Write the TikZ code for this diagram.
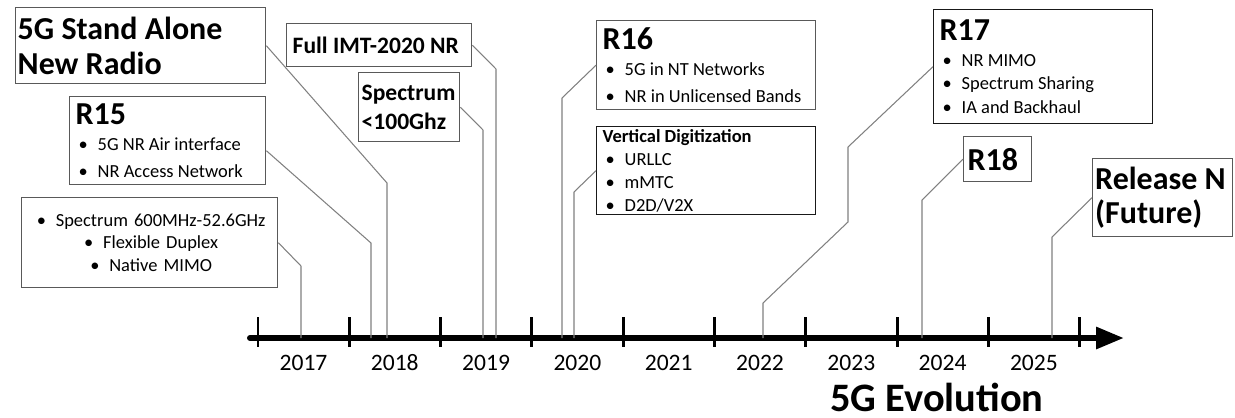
\documentclass[tikz,border=0pt]{standalone}
\usepackage{fontspec}
\setmainfont{Carlito}
\usetikzlibrary{arrows.meta}

\newcommand{\titlefont}{\fontsize{18.2}{19.8}\selectfont\bfseries}
\newcommand{\midfont}{\fontsize{13.4}{16.4}\selectfont\bfseries}
\newcommand{\itemfont}{\fontsize{10.5}{13}\selectfont}
\newcommand{\yearfont}{\fontsize{13.4}{15}\selectfont}
\newcommand{\evofont}{\fontsize{23}{26}\selectfont\bfseries}
\newcommand{\itm}{\hspace*{0.06cm}\makebox[0.38cm][l]{\textbullet}}

\begin{document}
\begin{tikzpicture}[x=0.02cm,y=-0.02cm]
    % Styles
    \tikzset{box/.style={draw=black!65, line width=0.8pt, anchor=north west, inner xsep=0.12cm, inner ysep=0pt, align=flush left, font=\itemfont}}
    \tikzstyle{darkbox}=[box, draw=black!90]
    \tikzstyle{conn}=[draw=black!50, line width=0.6pt]
    \tikzstyle{axisline}=[line width=3.4pt, line cap=round, -{Triangle[length=0.56cm,width=0.42cm]}]
    \tikzstyle{yearlabel}=[font=\yearfont, anchor=base]

    \useasboundingbox (0,0) rectangle (1235,417);

    % Timeline
    \coordinate (axis) at (250,338);
    \draw[axisline] (axis) -- (1124,338);
    \foreach \i in {0,...,9}
        \draw[line width=1.7pt] (258+91.3*\i,317) -- (258+91.3*\i,347);
    \foreach \yr [count=\i from 0] in {2017,...,2025}
        \node[yearlabel] (y\yr) at (303.5+91.3*\i,370) {\yr};
    \node[font=\evofont, anchor=base, inner sep=0pt] (evo) at (937,411) {5G Evolution};

    % Release 15 and before
    \node[box, minimum width=5cm, minimum height=1.52cm, text width=4.92cm, inner xsep=0.04cm, font=\titlefont] (sa) at (15,7) {5G Stand Alone\\New Radio};
    \node[box, minimum width=3.92cm, minimum height=1.76cm, text width=3.68cm] (r15) at (69,96)
        {{\titlefont R15}\\[2pt] \itm 5G NR Air interface\\[2.3pt] \itm NR Access Network};
    \node[box, minimum width=5.12cm, minimum height=1.8cm, text width=4.88cm, align=center] (sp600) at (21,197)
        {\itm Spectrum 600MHz-52.6GHz\\ \itm Flexible Duplex\\ \itm Native MIMO};
    \node[box, minimum width=3.7cm, minimum height=0.86cm, text width=3.46cm, font=\midfont] (imt) at (286,23) {Full IMT-2020 NR};
    \node[box, minimum width=2.02cm, minimum height=1.38cm, text width=1.9cm, inner xsep=0.06cm, font=\midfont] (sp100) at (358,72) {Spectrum\\<100Ghz};

    % Release 16
    \node[box, minimum width=4.38cm, minimum height=1.78cm, text width=4.14cm] (r16) at (596,20)
        {{\titlefont R16}\\[2pt] \itm 5G in NT Networks\\[2.3pt] \itm NR in Unlicensed Bands};
    \node[darkbox, minimum width=4.38cm, minimum height=1.76cm, text width=4.14cm] (vd) at (596,126)
        {\textbf{Vertical Digitization}\\ \itm URLLC\\ \itm mMTC\\ \itm D2D/V2X};

    % Release 17, 18 and beyond
    \node[darkbox, minimum width=4.38cm, minimum height=2.28cm, text width=4.14cm] (r17) at (933,9)
        {{\titlefont R17}\\[1.5pt] \itm NR MIMO\\[0.5pt] \itm Spectrum Sharing\\[0.5pt] \itm IA and Backhaul};
    \node[box, minimum width=1.36cm, minimum height=0.9cm, text width=1.2cm, inner xsep=0.08cm, font=\titlefont] (r18) at (963,136) {R18};
    \node[box, minimum width=2.8cm, minimum height=1.56cm, text width=2.7cm, inner xsep=0.05cm, font=\titlefont] (reln) at (1092,158) {Release N\\(Future)};

    % Connectors
    \coordinate (ksa) at (387,183);
    \coordinate (kr15) at (371,243);
    \coordinate (ksp600) at (301,266);
    \coordinate (kimt) at (496,69);
    \coordinate (ksp100) at (483,130);
    \coordinate (kr16) at (562,98);
    \coordinate (kvd) at (574,192);
    \coordinate (kr17a) at (848,147);
    \coordinate (kr17b) at (848,222);
    \coordinate (kr17c) at (763,303);
    \coordinate (kr18) at (922,200);
    \coordinate (kreln) at (1052,237);
    \draw[conn] (sa.east) -- (ksa) -- (ksa |- axis);
    \draw[conn] ([yshift=-0.2cm]r15.east) -- (kr15) -- (kr15 |- axis);
    \draw[conn] (sp600.east) -- (ksp600) -- (ksp600 |- axis);
    \draw[conn] (imt.east) -- (kimt) -- (kimt |- axis);
    \draw[conn] (sp100.east) -- (ksp100) -- (ksp100 |- axis);
    \draw[conn] (r16.west) -- (kr16) -- (kr16 |- axis);
    \draw[conn] (vd.west) -- (kvd) -- (kvd |- axis);
    \draw[conn] (r17.west) -- (kr17a) -- (kr17b) -- (kr17c) -- (kr17c |- axis);
    \draw[conn] (r18.west) -- (kr18) -- (kr18 |- axis);
    \draw[conn] (reln.west) -- (kreln) -- (kreln |- axis);
\end{tikzpicture}
\end{document}
